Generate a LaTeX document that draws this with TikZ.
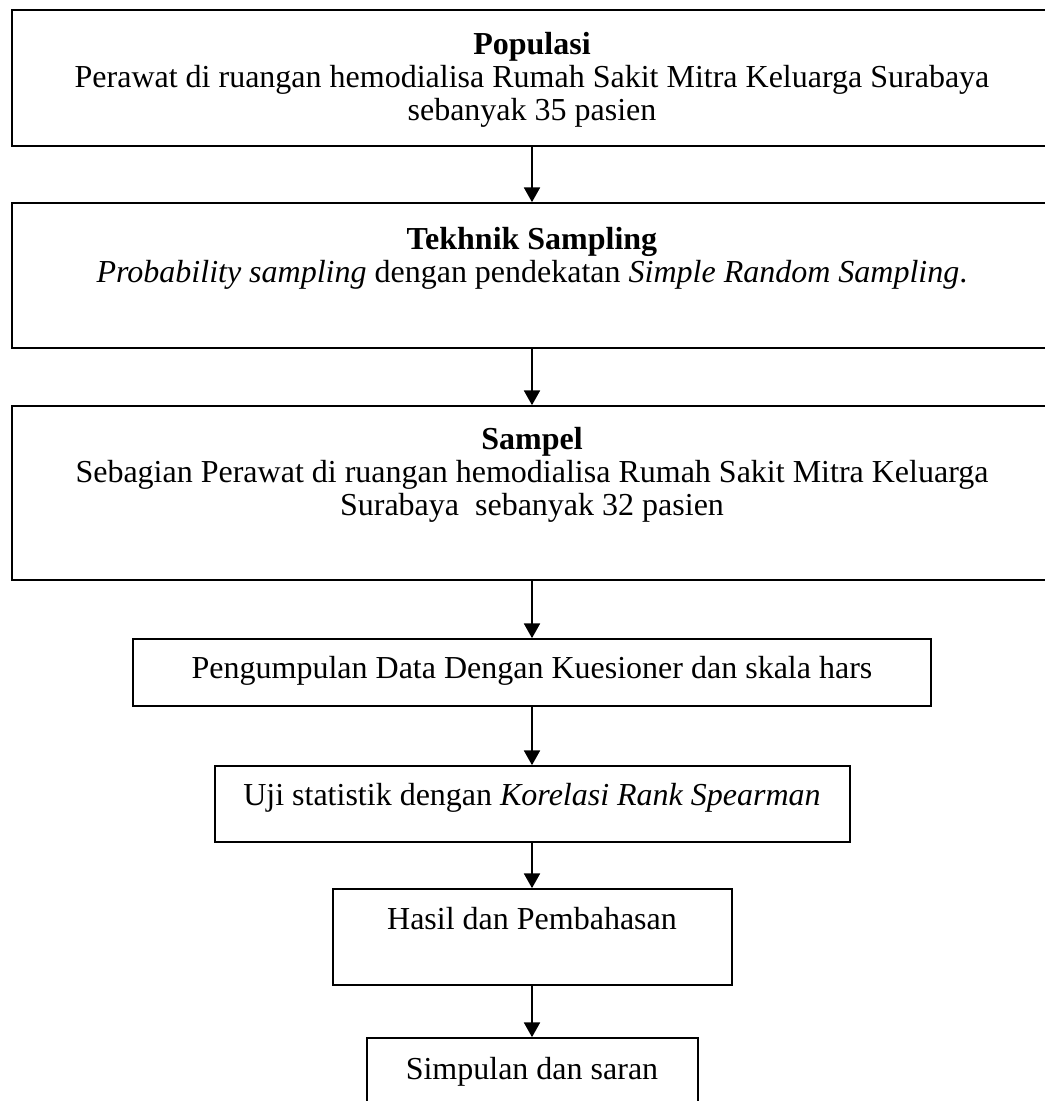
\documentclass[tikz,border=0pt]{standalone}
\usepackage{fontspec}
\setmainfont{Liberation Serif}
\usetikzlibrary{arrows.meta}
\begin{document}
\begin{tikzpicture}[x=0.75pt,y=-0.75pt,
  box/.style={draw=black,line width=1.3pt,rectangle,inner sep=0pt,fill=none},
  txt/.style={anchor=base,inner sep=0pt,font=\fontsize{24}{28}\selectfont},
  flow/.style={line width=1.3pt,-{Triangle[width=12pt,length=11pt]}}]
\clip (0,0) rectangle (1045,1101);
\useasboundingbox (0,0) rectangle (1045,1101);
% boxes
\node[box,minimum width=1040*0.75pt,minimum height=136*0.75pt] (b1) at (532,78) {};
\node[box,minimum width=1040*0.75pt,minimum height=145*0.75pt] (b2) at (532,275.5) {};
\node[box,minimum width=1040*0.75pt,minimum height=174*0.75pt] (b3) at (532,493) {};
\node[box,minimum width=798*0.75pt,minimum height=67*0.75pt] (b4) at (532,672.5) {};
\node[box,minimum width=635*0.75pt,minimum height=76*0.75pt] (b5) at (532.5,804) {};
\node[box,minimum width=399*0.75pt,minimum height=96*0.75pt] (b6) at (532.5,937) {};
\node[box,minimum width=331*0.75pt,minimum height=80*0.75pt] (b7) at (532.5,1078) {};
% texts
\node[txt] (t1a) at (532,54) {\textbf{Populasi}};
\node[txt] (t1b) at (532,87) {Perawat di ruangan hemodialisa Rumah Sakit Mitra Keluarga Surabaya};
\node[txt] (t1c) at (532,120) {sebanyak 35 pasien};
\node[txt] (t2a) at (532,249) {\textbf{Tekhnik Sampling}};
\node[txt] (t2b) at (532,282) {\textit{Probability sampling} dengan pendekatan \textit{Simple Random Sampling}.};
\node[txt] (t3a) at (532,449) {\textbf{Sampel}};
\node[txt] (t3b) at (532,482) {Sebagian Perawat di ruangan hemodialisa Rumah Sakit Mitra Keluarga};
\node[txt] (t3c) at (532,515) {Surabaya\hspace{0.5em}sebanyak 32 pasien};
\node[txt] (t4) at (532,678) {Pengumpulan Data Dengan Kuesioner dan skala hars};
\node[txt] (t5) at (532,805) {Uji statistik dengan \textit{Korelasi Rank Spearman}};
\node[txt] (t6) at (532,929) {Hasil dan Pembahasan};
\node[txt] (t7) at (532,1079) {Simpulan dan saran};
% connectors
\draw[flow] (b1.south -| 532,0) -- (b2.north -| 532,0);
\draw[flow] (b2.south -| 532,0) -- (b3.north -| 532,0);
\draw[flow] (b3.south -| 532,0) -- (b4.north -| 532,0);
\draw[flow] (b4.south -| 532,0) -- (b5.north -| 532,0);
\draw[flow] (b5.south -| 532,0) -- (b6.north -| 532,0);
\draw[flow] (b6.south -| 532,0) -- (b7.north -| 532,0);
\end{tikzpicture}
\end{document}
